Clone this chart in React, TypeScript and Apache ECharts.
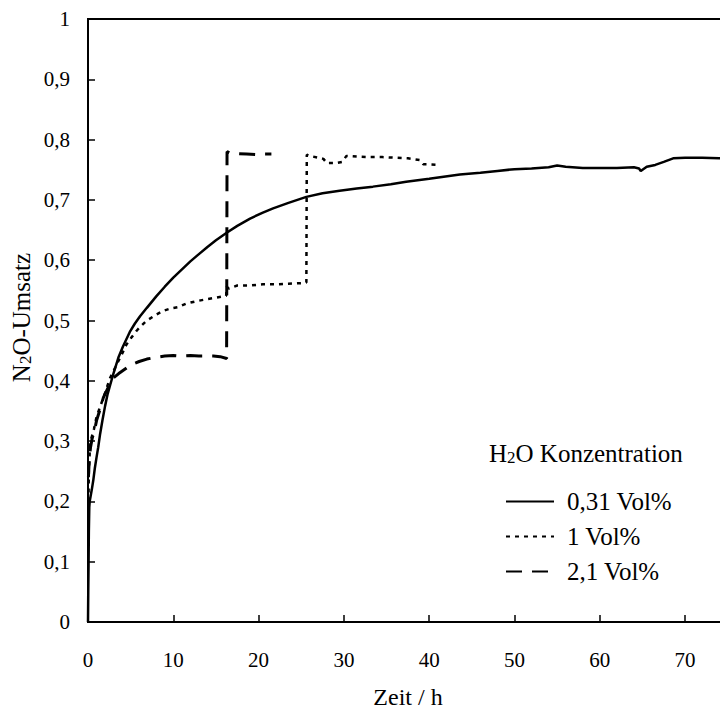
import React, { useEffect, useRef } from "react";
import * as echarts from "echarts";

// 0,31 Vol% H2O
const solidT = [0, 0.03, 0.07, 0.1, 0.15, 0.2, 0.3, 0.45, 0.62, 0.8, 1.0, 1.2, 1.4, 1.7, 2.0, 2.3, 2.6, 2.9, 3.2, 3.6, 4.1, 4.9, 5.5, 6.1, 6.9, 8.0, 9.0, 10.0, 10.8, 12.0, 13.0, 14.0, 15.0, 16.3, 17.5, 19.0, 20.5, 21.7, 23.5, 25.6, 27.5, 29.5, 31.5, 33.4, 35.5, 37.3, 40.0, 43.6, 46.0, 48.0, 50.0, 52.0, 54.0, 55.0, 56.0, 58.0, 60.0, 62.0, 64.0, 64.6, 64.8, 65.5, 66.5, 67.5, 68.6, 70.0, 72.0, 74.0, 76.0];
const solidV = [0, 0.05, 0.1, 0.15, 0.19, 0.2, 0.208, 0.22, 0.235, 0.255, 0.273, 0.29, 0.31, 0.335, 0.358, 0.378, 0.393, 0.408, 0.422, 0.44, 0.457, 0.481, 0.495, 0.507, 0.521, 0.54, 0.556, 0.571, 0.582, 0.598, 0.61, 0.622, 0.633, 0.646, 0.657, 0.669, 0.679, 0.686, 0.695, 0.705, 0.711, 0.715, 0.719, 0.722, 0.726, 0.73, 0.735, 0.742, 0.745, 0.748, 0.751, 0.752, 0.754, 0.757, 0.755, 0.753, 0.753, 0.753, 0.754, 0.752, 0.748, 0.755, 0.758, 0.763, 0.769, 0.77, 0.77, 0.769, 0.769];

// 1 Vol% H2O
const dottedT = [0.05, 0.1, 0.2, 0.3, 0.5, 0.7, 1.0, 1.5, 2.0, 2.6, 3.4, 4.0, 4.5, 5.1, 5.7, 6.3, 6.9, 7.8, 8.8, 9.7, 10.5, 11.5, 12.7, 13.8, 15.0, 16.2, 16.25, 16.5, 17.5, 19.0, 20.5, 22.0, 23.5, 25.0, 25.6, 25.65, 26.0, 27.0, 27.6, 28.0, 29.0, 29.8, 30.3, 31.5, 33.0, 34.5, 36.0, 37.5, 38.9, 39.3, 40.0, 41.3];
const dottedV = [0.2, 0.25, 0.28, 0.3, 0.31, 0.32, 0.34, 0.36, 0.38, 0.405, 0.428, 0.445, 0.46, 0.472, 0.483, 0.492, 0.5, 0.508, 0.516, 0.52, 0.522, 0.528, 0.532, 0.535, 0.538, 0.541, 0.556, 0.553, 0.558, 0.558, 0.56, 0.56, 0.561, 0.562, 0.563, 0.775, 0.773, 0.77, 0.768, 0.761, 0.761, 0.763, 0.773, 0.772, 0.771, 0.771, 0.77, 0.769, 0.766, 0.759, 0.759, 0.758];

// 2,1 Vol% H2O
const dashedT = [0.05, 0.15, 0.3, 0.5, 0.8, 1.0, 1.4, 1.8, 2.4, 3.0, 3.6, 4.1, 4.7, 5.3, 6.0, 6.9, 8.0, 9.0, 10.0, 10.8, 12.0, 13.0, 14.0, 14.7, 15.5, 16.25, 16.3, 16.8, 17.4, 18.6, 19.8, 20.5, 21.5];
const dashedV = [0.24, 0.27, 0.29, 0.305, 0.32, 0.334, 0.352, 0.372, 0.39, 0.405, 0.412, 0.417, 0.423, 0.428, 0.432, 0.436, 0.439, 0.441, 0.442, 0.441, 0.442, 0.441, 0.441, 0.441, 0.44, 0.437, 0.78, 0.777, 0.777, 0.776, 0.775, 0.776, 0.776];

const seriesNames = ["0,31 Vol%", "1 Vol%", "2,1 Vol%"];
const xTitle = "Zeit / h";
const yTitle = "N{sub|2}O-Umsatz";
const legendTitle = "H{sub|2}O Konzentration";

const FONT = "Liberation Serif";

function pairs(t: number[], v: number[]) {
  return t.map((x, i) => [x, v[i]]);
}

export default function App() {
  const ref = useRef<HTMLDivElement>(null);
  useEffect(() => {
    document.body.style.margin = "0";
    if (!ref.current) return;
    const chart = echarts.init(ref.current, undefined, { renderer: "svg" });
    const subRich = {
      sub: { fontSize: 17, fontFamily: FONT, fill: "#000", color: "#000", verticalAlign: "bottom", lineHeight: 22, padding: [8, 0, 0, 0] },
    };
    chart.setOption({
      animation: false,
      backgroundColor: "#fff",
      textStyle: { fontFamily: FONT },
      grid: {
        left: 88,
        top: 19,
        right: -50.4,
        bottom: 87,
        show: true,
        borderColor: "#000",
        borderWidth: 2,
        outerBoundsMode: "none",
      },
      xAxis: {
        type: "value",
        min: 0,
        max: 80,
        interval: 10,
        axisLine: { show: true, lineStyle: { color: "#000", width: 2 } },
        axisTick: { show: true, inside: true, length: 7, lineStyle: { color: "#000", width: 1.5 } },
        splitLine: { show: false },
        axisLabel: { color: "#000", fontFamily: FONT, fontSize: 21, margin: 27, showMaxLabel: false },
      },
      yAxis: {
        type: "value",
        min: 0,
        max: 1,
        interval: 0.1,
        axisLine: { show: true, lineStyle: { color: "#000", width: 2 } },
        axisTick: { show: true, inside: true, length: 7, lineStyle: { color: "#000", width: 1.5 } },
        splitLine: { show: false },
        axisLabel: {
          color: "#000",
          fontFamily: FONT,
          fontSize: 21,
          margin: 18,
          formatter: (v: number) => String(+v.toFixed(1)).replace(".", ","),
        },
      },
      legend: {
        data: seriesNames,
        orient: "vertical",
        left: 500,
        top: 484,
        itemWidth: 48,
        itemHeight: 14,
        itemGap: 10,
        itemStyle: { opacity: 0 },
        textStyle: { color: "#000", fontFamily: FONT, fontSize: 25, padding: [0, 0, 0, 8] },
      },
      graphic: [
        {
          type: "text",
          x: 21.5,
          y: 317.5,
          rotation: Math.PI / 2,
          style: {
            text: yTitle,
            fontSize: 25,
            fontFamily: FONT,
            fill: "#000",
            align: "center",
            verticalAlign: "middle",
            rich: subRich,
          },
        },
        {
          type: "text",
          x: 408,
          y: 697,
          style: {
            text: xTitle,
            fontSize: 24,
            fontFamily: FONT,
            fill: "#000",
            align: "center",
            verticalAlign: "middle",
          },
        },
        {
          type: "text",
          x: 489,
          y: 453,
          style: {
            text: legendTitle,
            fontSize: 25,
            fontFamily: FONT,
            fill: "#000",
            align: "left",
            verticalAlign: "middle",
            rich: subRich,
          },
        },
      ],
      series: [
        {
          name: seriesNames[0],
          type: "line",
          data: pairs(solidT, solidV),
          symbol: "none",
          showSymbol: false,
          lineStyle: { color: "#000", width: 2.5, type: "solid" },
          itemStyle: { color: "#000" },
        },
        {
          name: seriesNames[1],
          type: "line",
          data: pairs(dottedT, dottedV),
          symbol: "none",
          showSymbol: false,
          lineStyle: { color: "#000", width: 2.5, type: [4, 5] },
          itemStyle: { color: "#000" },
        },
        {
          name: seriesNames[2],
          type: "line",
          data: pairs(dashedT, dashedV),
          symbol: "none",
          showSymbol: false,
          lineStyle: { color: "#000", width: 3, type: [16, 10] },
          itemStyle: { color: "#000" },
        },
      ],
    });
    return () => chart.dispose();
  }, []);
  return (
    <div
      ref={ref}
      style={{ position: "fixed", left: 0, top: 0, width: 720, height: 709, background: "#fff" }}
    />
  );
}
